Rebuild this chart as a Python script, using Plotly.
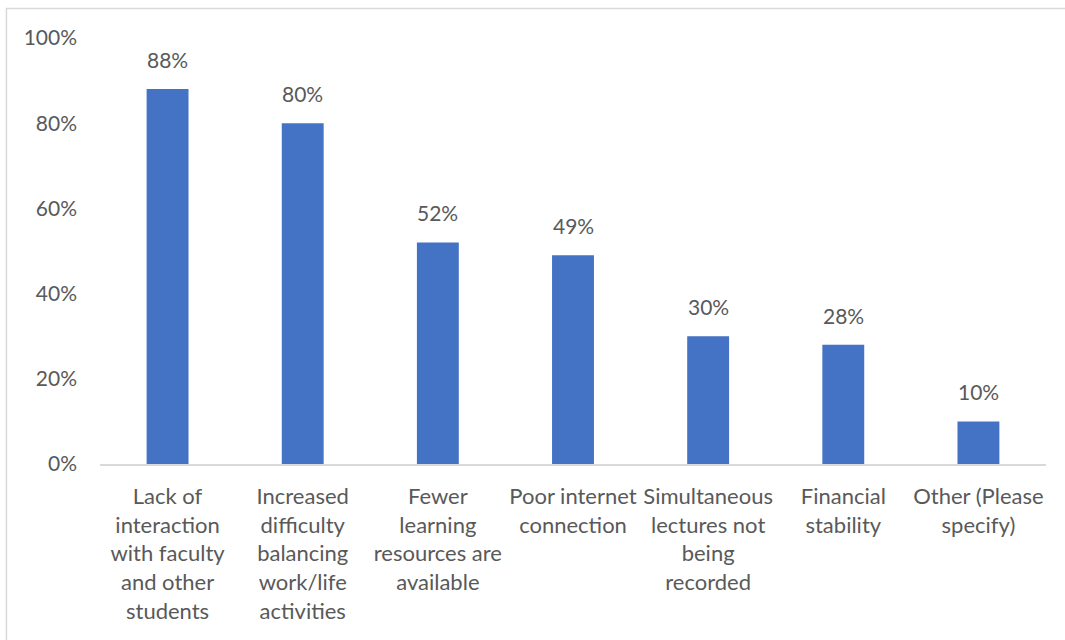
import plotly.graph_objects as go

categories = [
    "Lack of<br>interaction<br>with faculty<br>and other<br>students",
    "Increased<br>difficulty<br>balancing<br>work/life<br>activities",
    "Fewer<br>learning<br>resources are<br>available",
    "Poor internet<br>connection",
    "Simultaneous<br>lectures not<br>being<br>recorded",
    "Financial<br>stability",
    "Other (Please<br>specify)",
]
shares = [0.88, 0.80, 0.52, 0.49, 0.30, 0.28, 0.10]
y_ticks = [0, 0.2, 0.4, 0.6, 0.8, 1.0]
y_tick_labels = ["0%", "20%", "40%", "60%", "80%", "100%"]

TEXT = "#595959"
FONT = "Lato, 'Open Sans', sans-serif"

fig = go.Figure(
    go.Bar(
        x=categories,
        y=shares,
        marker=dict(color="#4472C4", line=dict(width=0)),
        hoverinfo="skip",
    )
)

for cat, v in zip(categories, shares):
    fig.add_annotation(
        x=cat, y=v, text=f"{round(v * 100)}%",
        showarrow=False, yanchor="bottom", yshift=15,
        font=dict(family=FONT, size=21, color=TEXT),
    )

fig.update_layout(
    width=1065, height=640,
    margin=dict(l=100, r=19, t=38, b=176),
    paper_bgcolor="white", plot_bgcolor="white",
    showlegend=False,
    bargap=0.69,
    font=dict(family=FONT, size=20, color=TEXT),
    shapes=[dict(
        type="rect", xref="paper", yref="paper",
        x0=-0.0989, x1=1.03, y0=-0.44, y1=1.0692,
        line=dict(color="#D9D9D9", width=1.5), layer="below",
    )],
)
fig.update_xaxes(
    showline=True, linecolor="#D9D9D9", linewidth=1.5,
    ticks="", showgrid=False, tickangle=0,
    ticklabelstandoff=12,
    tickfont=dict(family=FONT, size=22, color=TEXT),
)
fig.update_yaxes(
    range=[0, 1.0], tickvals=y_ticks, ticktext=y_tick_labels,
    showgrid=False, zeroline=False, showline=False, ticks="",
    ticklabelstandoff=22,
    tickfont=dict(family=FONT, size=21, color=TEXT),
)

fig.write_html("out.html")
